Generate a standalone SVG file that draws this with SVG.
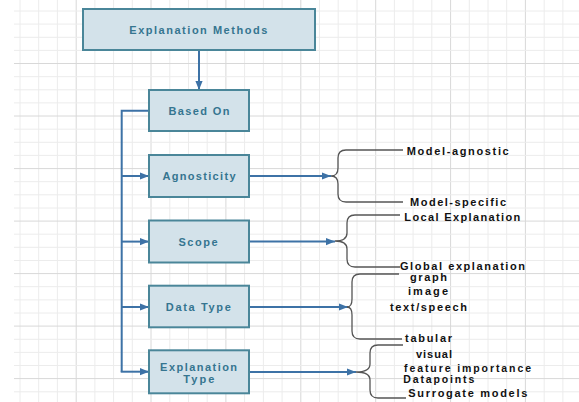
<svg xmlns="http://www.w3.org/2000/svg" width="579" height="402" viewBox="0 0 579 402">
<defs>
<style>
.grid{stroke:#ececec;stroke-width:1;fill:none}
.gridd{stroke:#d8d8d8;stroke-width:1;fill:none}
.box{fill:#d3e2ea;stroke:#4a8699;stroke-width:2}
.nt{font-family:"Liberation Sans",Arial,sans-serif;font-weight:bold;font-size:11px;fill:#357590;text-anchor:middle;dominant-baseline:central}
.lb{font-family:"Liberation Sans",Arial,sans-serif;font-weight:bold;font-size:11px;fill:#111;dominant-baseline:central}
.lbs{font-family:"Liberation Sans",Arial,sans-serif;font-weight:bold;font-size:10.5px;fill:#111;dominant-baseline:central}
.con{stroke:#3d72a6;stroke-width:2;fill:none}
.brace{stroke:#555;stroke-width:1.3;fill:none}
</style>
<marker id="ah" viewBox="0 0 10 10" refX="10" refY="5" markerWidth="4.5" markerHeight="4.5" orient="auto" markerUnits="strokeWidth">
<path d="M0,1 L10,5 L0,9 z" fill="#3d72a6"/>
</marker>
</defs>
<rect width="579" height="402" fill="#fff"/>
<g id="grid">
<path class="grid" d="M20,0V402M38.7,0V402M57.4,0V402M94.9,0V402M113.6,0V402M132.3,0V402M169.8,0V402M188.5,0V402M207.2,0V402M244.6,0V402M263.4,0V402M282.1,0V402M319.5,0V402M338.2,0V402M357,0V402M394.4,0V402M413.1,0V402M431.8,0V402M469.3,0V402M488,0V402M506.7,0V402M544.2,0V402M562.9,0V402"/>
<path class="gridd" d="M76.2,0V402M151,0V402M225.9,0V402M300.8,0V402M375.7,0V402M450.6,0V402M525.4,0V402"/>
<path class="grid" d="M14,11H579M14,24.1H579M14,37.3H579M14,50.4H579M14,76.7H579M14,89.8H579M14,102.9H579M14,129.2H579M14,142.3H579M14,155.4H579M14,181.7H579M14,194.8H579M14,208H579M14,234.2H579M14,247.3H579M14,260.5H579M14,286.7H579M14,299.9H579M14,313H579M14,339.3H579M14,352.4H579M14,365.5H579M14,391.8H579"/>
<path class="gridd" d="M14,63.5H579M14,116H579M14,168.6H579M14,221.1H579M14,273.6H579M14,326.1H579M14,378.6H579"/>
</g>
<g id="connectors">
<path class="con" d="M199,50V90" marker-end="url(#ah)"/>
<path class="con" d="M149,110.7H121.7V371.7"/>
<path class="con" d="M121.7,176H149" marker-end="url(#ah)"/>
<path class="con" d="M121.7,241.6H149" marker-end="url(#ah)"/>
<path class="con" d="M121.7,307H149" marker-end="url(#ah)"/>
<path class="con" d="M120.7,371.7H149" marker-end="url(#ah)"/>
<path class="con" d="M249,176H331" marker-end="url(#ah)"/>
<path class="con" d="M249,241.6H335" marker-end="url(#ah)"/>
<path class="con" d="M249,307H348" marker-end="url(#ah)"/>
<path class="con" d="M249,372H356" marker-end="url(#ah)"/>
<path class="brace" d="M403,150H346Q338,150 338,158V168Q338,176 331,176Q338,176 338,184V194Q338,202 346,202H403"/>
<path class="brace" d="M400,215H355Q347,215 347,223V233Q347,241 335,241Q347,241 347,249V259Q347,267 355,267H400"/>
<path class="brace" d="M399,274H360Q352,274 352,282V299Q352,307 347,307Q352,307 352,315V331Q352,339 360,339H402"/>
<path class="brace" d="M403,345H378Q370,345 370,353V364Q370,372 356,372Q370,372 370,380V390Q370,398 378,398H406"/>
</g>
<g id="n-methods">
<rect class="box" x="83" y="9" width="232" height="41"/>
<text class="nt" x="198.3" y="30" textLength="138" lengthAdjust="spacing">Explanation Methods</text>
</g>
<g id="n-based">
<rect class="box" x="149" y="90" width="100" height="41"/>
<text class="nt" x="199" y="111" textLength="61" lengthAdjust="spacing">Based On</text>
</g>
<g id="n-agnosticity">
<rect class="box" x="149" y="155" width="100" height="42"/>
<text class="nt" x="199" y="176" textLength="73" lengthAdjust="spacing">Agnosticity</text>
</g>
<g id="n-scope">
<rect class="box" x="149" y="220.5" width="100" height="42"/>
<text class="nt" x="198" y="241.6" textLength="39" lengthAdjust="spacing">Scope</text>
</g>
<g id="n-datatype">
<rect class="box" x="149" y="285.7" width="100" height="41.6"/>
<text class="nt" x="198.3" y="307" textLength="65" lengthAdjust="spacing">Data Type</text>
</g>
<g id="n-expltype">
<rect class="box" x="149" y="350.3" width="100" height="43"/>
<text class="nt" x="198.6" y="366.7" textLength="77" lengthAdjust="spacing">Explanation</text>
<text class="nt" x="198.8" y="379.3" textLength="31" lengthAdjust="spacing">Type</text>
</g>
<g id="labels">
<text class="lb" x="406.7" y="150.5" textLength="102" lengthAdjust="spacing">Model-agnostic</text>
<text class="lb" x="410" y="202" textLength="96" lengthAdjust="spacing">Model-specific</text>
<text class="lb" x="404.3" y="216.5" textLength="116" lengthAdjust="spacing">Local Explanation</text>
<text class="lb" x="400" y="266" textLength="125" lengthAdjust="spacing">Global explanation</text>
<text class="lb" x="410" y="276.8" textLength="37" lengthAdjust="spacing">graph</text>
<text class="lb" x="408" y="290.5" textLength="40" lengthAdjust="spacing">image</text>
<text class="lb" x="390" y="307.3" textLength="77" lengthAdjust="spacing">text/speech</text>
<text class="lb" x="405" y="337.7" textLength="47" lengthAdjust="spacing">tabular</text>
<text class="lb" x="416" y="354" textLength="36" lengthAdjust="spacing">visual</text>
<text class="lbs" x="404" y="367.8" textLength="127" lengthAdjust="spacing">feature importance</text>
<text class="lbs" x="403.3" y="379" textLength="71" lengthAdjust="spacing">Datapoints</text>
<text class="lb" x="408.3" y="392.5" textLength="119" lengthAdjust="spacing">Surrogate models</text>
</g>
</svg>
